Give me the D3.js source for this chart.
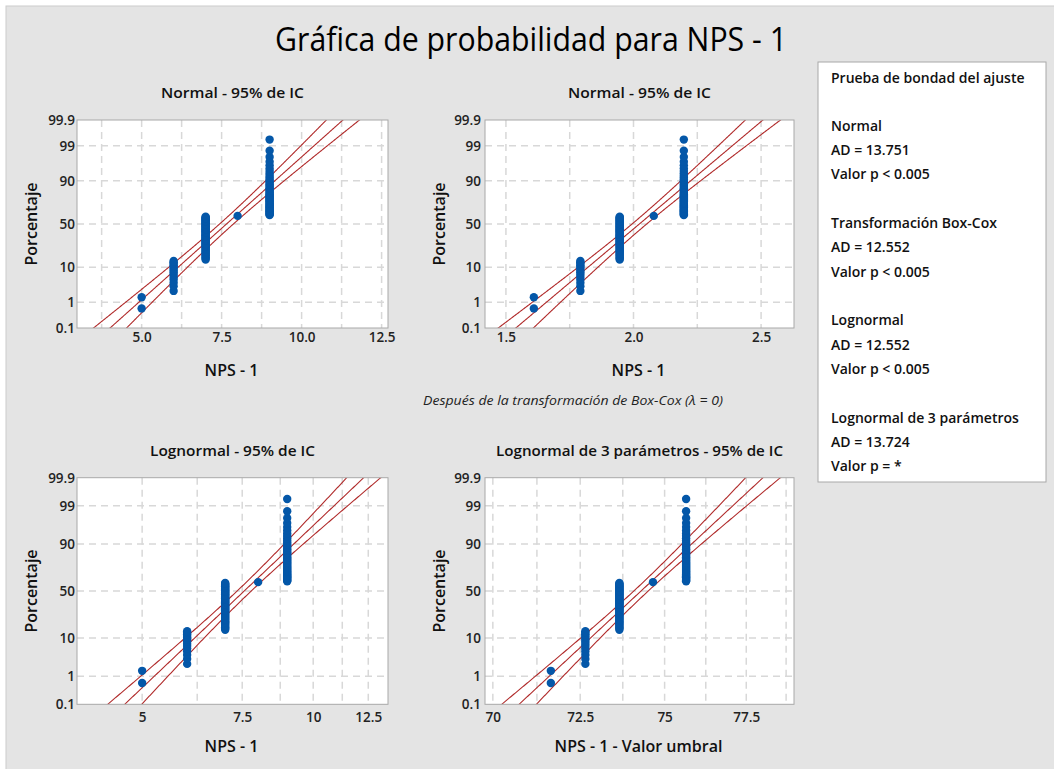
<!DOCTYPE html>
<html>
<head>
<meta charset="utf-8">
<script src="https://cdn.jsdelivr.net/npm/d3@7"></script>
<style>
  body { margin: 0; background: #fff; }
  svg { display: block; font-family: "Open Sans", "Noto Sans", sans-serif; }
</style>
</head>
<body>
<div id="chart"></div>
<script>
// data: NPS - 1 values and how many observations sit on each value
const npsValues = [5, 6, 7, 8, 9];
const npsCounts = [2, 14, 52, 1, 46];
const threshold = -66.65; // umbral of the 3-parameter lognormal

const percentTicks = [0.1, 1, 10, 50, 90, 99, 99.9];
const percentLabels = ["0.1", "1", "10", "50", "90", "99", "99.9"];

const panelTitles = [
  "Normal - 95% de IC",
  "Normal - 95% de IC",
  "Lognormal - 95% de IC",
  "Lognormal de 3 parámetros - 95% de IC"
];
const xAxisTitles = ["NPS - 1", "NPS - 1", "NPS - 1", "NPS - 1 - Valor umbral"];
const xTickValues = [[5, 7.5, 10, 12.5], [1.5, 2.0, 2.5], [5, 7.5, 10, 12.5], [70, 72.5, 75, 77.5]];
const xTickLabels = [["5.0", "7.5", "10.0", "12.5"], ["1.5", "2.0", "2.5"], ["5", "7.5", "10", "12.5"], ["70", "72.5", "75", "77.5"]];

const gofNames = ["Normal", "Transformación Box-Cox", "Lognormal", "Lognormal de 3 parámetros"];
const gofAD = ["13.751", "12.552", "12.552", "13.724"];
const gofP = ["< 0.005", "< 0.005", "< 0.005", "= *"];

const width = 1054, height = 769;
const blue = "#0457A8", red = "#B02A2A";

// inverse standard normal cdf (Acklam)
function qnorm(p) {
  const a = [-39.69683028665376, 220.9460984245205, -275.9285104469687, 138.357751867269, -30.66479806614716, 2.506628277459239];
  const b = [-54.47609879822406, 161.5858368580409, -155.6989798598866, 66.80131188771972, -13.28068155288572];
  const c = [-0.007784894002430293, -0.3223964580411365, -2.400758277161838, -2.549732539343734, 4.374664141464968, 2.938163982698783];
  const d = [0.007784695709041462, 0.3224671290700398, 2.445134137142996, 3.754408661907416];
  const pl = 0.02425;
  let q, r;
  if (p < pl) {
    q = Math.sqrt(-2 * Math.log(p));
    return (((((c[0]*q+c[1])*q+c[2])*q+c[3])*q+c[4])*q+c[5]) / ((((d[0]*q+d[1])*q+d[2])*q+d[3])*q+1);
  } else if (p <= 1 - pl) {
    q = p - 0.5; r = q * q;
    return (((((a[0]*r+a[1])*r+a[2])*r+a[3])*r+a[4])*r+a[5])*q / (((((b[0]*r+b[1])*r+b[2])*r+b[3])*r+b[4])*r+1);
  }
  q = Math.sqrt(-2 * Math.log(1 - p));
  return -(((((c[0]*q+c[1])*q+c[2])*q+c[3])*q+c[4])*q+c[5]) / ((((d[0]*q+d[1])*q+d[2])*q+d[3])*q+1);
}

// one observation per row, in rank order, with median rank plotting position
const obs = [];
npsValues.forEach((v, i) => d3.range(npsCounts[i]).forEach(() => obs.push(v)));
const n = obs.length;
obs.forEach((v, i) => (obs[i] = { v, z: qnorm((i + 1 - 0.3) / (n + 0.4)) }));

const panels = [
  { x: 77, y: 120, w: 311, h: 208, dom: [2.98, 12.7], log: false, step: 1.25,
    fit: v => v, back: u => u, tickPad: 4, yPad: 2 },
  { x: 485, y: 120, w: 309, h: 208, dom: [1.418, 2.629], log: false, step: 0.25,
    fit: v => Math.log(v), back: u => u, tickPad: 4, yPad: 4 },
  { x: 77, y: 477.7, w: 311, h: 226.6, dom: [3.84, 13.54], log: true, step: 1.25,
    fit: v => Math.log(v), back: u => Math.exp(u), tickPad: 8, yPad: 2 },
  { x: 485, y: 477.7, w: 309, h: 226.6, dom: [69.78, 79.0], log: true, step: 1.25,
    fit: v => Math.log(v - threshold), back: u => Math.exp(u), tickPad: 8, yPad: 4 }
];

const svg = d3.select("#chart").append("svg")
  .attr("width", width).attr("height", height);

svg.append("rect").attr("x", 6).attr("y", 6).attr("width", width - 5).attr("height", height - 5)
  .attr("fill", "#E4E4E4").attr("stroke", "#CBCBCB");

svg.append("text")
  .attr("x", 531).attr("y", 50.5)
  .attr("text-anchor", "middle")
  .attr("font-size", 33)
  .attr("textLength", 512).attr("lengthAdjust", "spacingAndGlyphs")
  .attr("fill", "#000")
  .text("Gráfica de probabilidad para NPS - 1");

const zMin = qnorm(0.001), zMax = qnorm(0.999);

panels.forEach((p, k) => {
  const g = svg.append("g").attr("transform", `translate(${p.x},${p.y})`);
  const x = (p.log ? d3.scaleLog() : d3.scaleLinear()).domain(p.dom).range([0, p.w]);
  const y = d3.scaleLinear().domain([zMin, zMax]).range([p.h, 0]);

  g.append("rect").attr("width", p.w).attr("height", p.h).attr("fill", "#fff");

  // grid
  const gx = d3.range(Math.ceil(p.dom[0] / p.step) * p.step, p.dom[1], p.step);
  g.selectAll(".gx").data(gx).enter().append("line")
    .attr("x1", d => x(d)).attr("x2", d => x(d)).attr("y1", 0).attr("y2", p.h)
    .attr("stroke", "#D8D8D8").attr("stroke-width", 1.5).attr("stroke-dasharray", "7,5");
  g.selectAll(".gy").data(percentTicks.slice(1, -1)).enter().append("line")
    .attr("x1", 0).attr("x2", p.w)
    .attr("y1", d => y(qnorm(d / 100))).attr("y2", d => y(qnorm(d / 100)))
    .attr("stroke", "#D8D8D8").attr("stroke-width", 1.5).attr("stroke-dasharray", "7,5");

  // fitted line and 95% confidence bands
  const u = obs.map(o => p.fit(o.v));
  const mu = d3.mean(u), sd = d3.deviation(u);
  const zs = d3.range(zMin - 0.1, zMax + 0.1, 0.02);
  const clipId = "clip" + k;
  g.append("clipPath").attr("id", clipId).append("rect").attr("width", p.w).attr("height", p.h);
  const line = d3.line().x(d => x(d[0])).y(d => y(d[1]));
  [-1, 0, 1].forEach(s => {
    const pts = zs.map(z => {
      const se = sd * Math.sqrt((1 + z * z / 2) / n);
      return [p.back(mu + z * sd + s * 1.96 * se), z];
    });
    g.append("path").attr("clip-path", `url(#${clipId})`)
      .attr("d", line(pts)).attr("fill", "none")
      .attr("stroke", red).attr("stroke-width", 1.1);
  });

  // points
  g.selectAll(".pt").data(obs).enter().append("circle")
    .attr("cx", d => x(p.back(p.fit(d.v))))
    .attr("cy", d => y(d.z))
    .attr("r", 4.2).attr("fill", blue);

  g.append("rect").attr("width", p.w).attr("height", p.h)
    .attr("fill", "none").attr("stroke", "#A8A8A8");

  // axes
  const ax = g.append("g").attr("transform", `translate(0,${p.h})`)
    .call(d3.axisBottom(x).tickValues(xTickValues[k])
      .tickFormat((d, i) => xTickLabels[k][i]).tickSize(0).tickPadding(p.tickPad));
  const ay = g.append("g")
    .call(d3.axisLeft(y).tickValues(percentTicks.map(t => qnorm(t / 100)))
      .tickFormat((d, i) => percentLabels[i]).tickSize(0).tickPadding(p.yPad));
  [ax, ay].forEach(a => {
    a.select(".domain").remove();
    a.selectAll("text").attr("font-size", 13.5).attr("font-weight", 600)
      .attr("font-family", "Open Sans").attr("fill", "#222");
  });

  // titles
  const tw = [143, 143, 165, 287][k];
  g.append("text")
    .attr("x", p.w / 2).attr("y", -28)
    .attr("text-anchor", "middle").attr("dominant-baseline", "central")
    .attr("font-size", 15).attr("font-weight", 600).attr("fill", "#111")
    .attr("textLength", tw).attr("lengthAdjust", "spacingAndGlyphs")
    .text(panelTitles[k]);
  g.append("text")
    .attr("x", p.w / 2 - 1).attr("y", p.h + 42)
    .attr("text-anchor", "middle").attr("dominant-baseline", "central")
    .attr("font-size", 16).attr("font-weight", 600).attr("fill", "#111")
    .text(xAxisTitles[k]);
  g.append("text")
    .attr("transform", `translate(${-46},${p.h / 2}) rotate(-90)`)
    .attr("text-anchor", "middle").attr("dominant-baseline", "central")
    .attr("font-size", 16).attr("font-weight", 600).attr("fill", "#111")
    .text("Porcentaje");
});

svg.append("text")
  .attr("x", 573).attr("y", 400)
  .attr("text-anchor", "middle").attr("dominant-baseline", "central")
  .attr("font-size", 13).attr("font-style", "italic").attr("fill", "#222")
  .attr("textLength", 300).attr("lengthAdjust", "spacingAndGlyphs")
  .text("Después de la transformación de Box-Cox (λ = 0)");

// goodness of fit box
const box = svg.append("g");
box.append("rect").attr("x", 818).attr("y", 62).attr("width", 228).attr("height", 420)
  .attr("fill", "#fff").attr("stroke", "#A8A8A8");
const boxLines = [{ t: "Prueba de bondad del ajuste", y: 77.7 }];
gofNames.forEach((name, i) => {
  const y0 = 125.5 + i * 97.2;
  boxLines.push({ t: name, y: y0 });
  boxLines.push({ t: "AD = " + gofAD[i], y: y0 + 24.2 });
  boxLines.push({ t: "Valor p " + gofP[i], y: y0 + 48.4 });
});
box.selectAll(".gof").data(boxLines).enter().append("text")
  .attr("x", 831).attr("y", d => d.y)
  .attr("dominant-baseline", "central")
  .attr("font-size", 14).attr("font-weight", 600).attr("fill", "#111")
  .text(d => d.t);
</script>
</body>
</html>
